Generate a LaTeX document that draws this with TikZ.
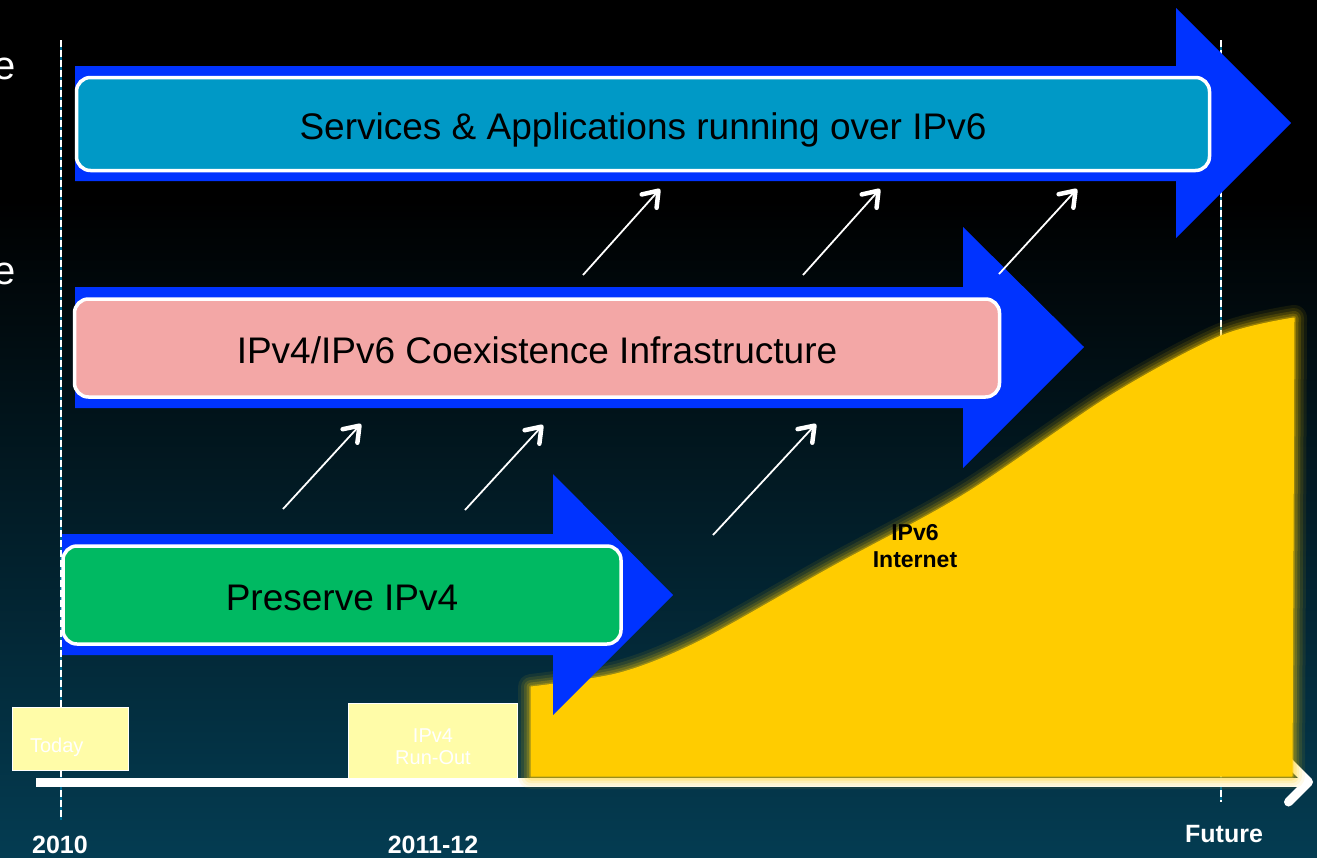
\documentclass[tikz,border=0pt]{standalone}
\usepackage{fontspec}
\setmainfont{Liberation Sans}
\usetikzlibrary{arrows.meta,positioning}

\definecolor{bgteal}{RGB}{4,60,82}
\definecolor{dashteal}{RGB}{0,110,150}
\definecolor{arrowblue}{RGB}{0,51,255}
\definecolor{svcblue}{RGB}{0,153,198}
\definecolor{coexpink}{RGB}{243,167,166}
\definecolor{keepgreen}{RGB}{0,185,98}
\definecolor{ipvsixyellow}{RGB}{255,204,0}
\definecolor{paleyellow}{RGB}{255,252,168}

\begin{document}
\begin{tikzpicture}[x=1pt, y=-1pt,
	phasebox/.style={draw=white, line width=3.5pt, rounded corners=14pt, text=black,
		text height=30pt, text depth=0pt, font=\fontsize{37}{40}\selectfont},
	timebox/.style={draw=white, line width=0.8pt, fill=paleyellow, text=white,
		font=\fontsize{20}{22}\selectfont},
	yearlabel/.style={text=white, font=\bfseries\fontsize{25}{28}\selectfont},
	guideline/.style={line width=1.6pt},
	glow/.style={draw=ipvsixyellow, opacity=#1, line join=round},
	riseline/.style={draw=white, line width=1.8pt,
		-{Straight Barb[length=14pt, width=20pt, line width=4.5pt, round]}}]

	% Background
	\useasboundingbox (0,0) rectangle (1317,857);
	\fill[black] (0,0) rectangle (1317,857);
	\shade[top color=black, bottom color=bgteal] (0,200) rectangle (1317,857);

	% Cut-off text from the left
	\node[anchor=base east, inner sep=0pt, text=white, font=\fontsize{40}{44}\selectfont] (cuttop) at (16,79) {e};
	\node[anchor=base east, inner sep=0pt, text=white, font=\fontsize{40}{44}\selectfont] (cutmid) at (16,284) {e};

	% Dashed time marks
	\coordinate (nowtop) at (61,40);
	\coordinate (nowbot) at (61,820);
	\coordinate (futtop) at (1221,40);
	\coordinate (futbot) at (1221,802);
	\draw[guideline, dashteal] (nowtop) -- (nowbot);
	\draw[guideline, white, dash pattern=on 7pt off 3pt] (nowtop) -- (nowbot);
	\draw[guideline, dashteal] (futtop) -- (futbot);
	\draw[guideline, white, dash pattern=on 7pt off 3pt] (futtop) -- (futbot);

	% Time axis
	\coordinate (axisstart) at (36,782);
	\coordinate (axisend) at (1313,782);
	\draw[white, line width=9pt, -{Straight Barb[length=20pt, width=40pt, round]}] (axisstart) -- (axisend);

	% IPv6 Internet growth (with soft glow)
	\filldraw[fill=ipvsixyellow, draw=ipvsixyellow, line width=1pt, line join=round,
		preaction={glow=0.08, line width=26pt},
		preaction={glow=0.10, line width=20pt},
		preaction={glow=0.14, line width=14pt},
		preaction={glow=0.20, line width=9pt},
		preaction={glow=0.30, line width=4pt}]
		(531,776) -- plot[smooth] coordinates {(531,687) (620,673) (700,641) (830,568)
			(965,494) (1110,396) (1221,336) (1294,318)} -- (1292,776) -- cycle;
	\node[align=center, text=black, font=\bfseries\fontsize{23}{27}\selectfont] (ipvsix) at (915,546) {IPv6\\Internet};

	% Milestone boxes
	\node[timebox, minimum width=115pt, minimum height=63pt, text width=80pt, inner xsep=18pt, align=left,
		text height=26pt, text depth=0pt] (today) at (70,739) {Today};
	\node[timebox, minimum width=169pt, minimum height=75pt]
		(runout) at (433,741) {\raisebox{0pt}[46pt][0pt]{\begin{tabular}[b]{@{}c@{}}IPv4\\Run-Out\end{tabular}}};

	% Year labels
	\node[yearlabel] (yearnow) at (60,845) {2010};
	\node[yearlabel] (yearrun) at (433,845) {2011-12};
	\node[yearlabel] (yearfut) at (1224,834) {Future};

	% Big blue arrows
	\fill[arrowblue] (75,66) -- (1176,66) -- (1176,8) -- (1291,123) -- (1176,238) -- (1176,181) -- (75,181) -- cycle;
	\fill[arrowblue] (75,287) -- (963,287) -- (963,227) -- (1084,347) -- (963,468) -- (963,408) -- (75,408) -- cycle;
	\fill[arrowblue] (62,534) -- (553,534) -- (553,474) -- (673,595) -- (553,715) -- (553,655) -- (62,655) -- cycle;

	% Phase boxes
	\node[phasebox, fill=svcblue, minimum width=1133pt, minimum height=93pt]
		(services) at (643,124) {Services \& Applications running over IPv6};
	\node[phasebox, fill=coexpink, minimum width=925pt, minimum height=98pt]
		(coexist) at (537,348) {IPv4/IPv6 Coexistence Infrastructure};
	\node[phasebox, fill=keepgreen, minimum width=558pt, minimum height=98pt]
		(preserve) at (342,595) {Preserve IPv4};

	% Small rising arrows
	\coordinate (riseAa) at (583,275);  \coordinate (riseAb) at (660,189);
	\coordinate (riseBa) at (803,275);  \coordinate (riseBb) at (880,189);
	\coordinate (riseCa) at (999,274);  \coordinate (riseCb) at (1077,189);
	\coordinate (riseDa) at (283,509);  \coordinate (riseDb) at (361,424);
	\coordinate (riseEa) at (465,510);  \coordinate (riseEb) at (543,425);
	\coordinate (riseFa) at (713,535);  \coordinate (riseFb) at (816,424);
	\draw[riseline] (riseAa) -- (riseAb);
	\draw[riseline] (riseBa) -- (riseBb);
	\draw[riseline] (riseCa) -- (riseCb);
	\draw[riseline] (riseDa) -- (riseDb);
	\draw[riseline] (riseEa) -- (riseEb);
	\draw[riseline] (riseFa) -- (riseFb);

\end{tikzpicture}
\end{document}
